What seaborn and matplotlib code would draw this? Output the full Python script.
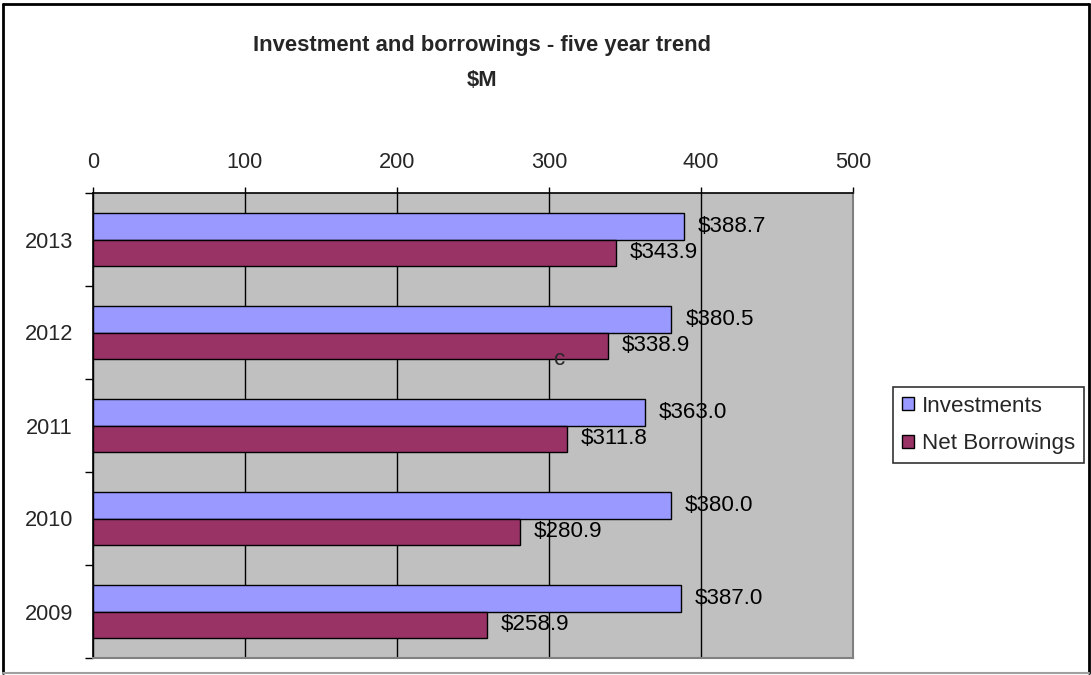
import numpy as np
import pandas as pd
import matplotlib
matplotlib.use("Agg")
import matplotlib.pyplot as plt
from matplotlib.patches import Patch
from matplotlib.lines import Line2D
import seaborn as sns

years = ["2013", "2012", "2011", "2010", "2009"]
investments = [388.7, 380.5, 363.0, 380.0, 387.0]
net_borrowings = [343.9, 338.9, 311.8, 280.9, 258.9]
series_names = ["Investments", "Net Borrowings"]
colors = ["#9999FF", "#993366"]
x_ticks = [0, 100, 200, 300, 400, 500]
title_line1 = "Investment and borrowings - five year trend"
title_line2 = "$M"

sns.set_style("white")
plt.rcParams["font.family"] = ["Liberation Sans", "DejaVu Sans"]

df = pd.DataFrame({
    "Year": years * 2,
    "Value": investments + net_borrowings,
    "Series": [series_names[0]] * len(years) + [series_names[1]] * len(years),
})

FS_TICK = 15.7
FS_LAB = 16.1

fig = plt.figure(figsize=(10.91, 6.75), dpi=100)
W, H = 1091, 675
ax = fig.add_axes([93 / W, (H - 658) / H, 760 / W, 465 / H])
ax.set_facecolor("#C0C0C0")

sns.barplot(data=df, y="Year", x="Value", hue="Series", orient="h",
            order=years, hue_order=series_names, palette=colors,
            saturation=1, width=0.571, edgecolor="black", linewidth=1.0,
            ax=ax, legend=False, zorder=3)

for cont in ax.containers:
    vals = [r.get_width() for r in cont]
    ax.bar_label(cont, labels=[f"${v:.1f}" for v in vals], padding=10,
                 fontsize=FS_LAB, color="black", zorder=5)

ax.set_xlim(0, 500)
ax.set_ylim(4.5, -0.5)
ax.set_xticks(x_ticks)
ax.set_xticklabels([str(t) for t in x_ticks])
ax.xaxis.tick_top()
ax.tick_params(axis="x", direction="out", length=4, width=1, color="black",
               labelsize=FS_TICK, pad=10.5, top=True, bottom=False)
ax.set_xlabel("")
ax.set_ylabel("")
ax.grid(axis="x", color="black", linewidth=1, zorder=1)
ax.set_axisbelow(True)

ax.set_yticks(range(len(years)))
ax.set_yticklabels(years)
ax.tick_params(axis="y", which="major", length=0, labelsize=FS_TICK, pad=14.5)
ax.set_yticks(np.arange(-0.5, len(years), 1), minor=True)
ax.tick_params(axis="y", which="minor", length=6, width=1, color="black",
               direction="out", left=True)

for side in ["left", "top"]:
    ax.spines[side].set_visible(True)
    ax.spines[side].set_color("black")
    ax.spines[side].set_linewidth(1.2)
for side in ["right", "bottom"]:
    ax.spines[side].set_visible(True)
    ax.spines[side].set_color("#808080")
    ax.spines[side].set_linewidth(1.5)

# stray character present in the source chart
ax.text(307, 1.29, "c", fontsize=FS_LAB, ha="center", va="center", zorder=6)

fig.text(482 / W, 1 - 46 / H, title_line1,
         ha="center", va="center", fontsize=15.8, fontweight="bold")
fig.text(482 / W, 1 - 80 / H, title_line2,
         ha="center", va="center", fontsize=15.8, fontweight="bold")

handles = [Patch(facecolor=c, edgecolor="black", linewidth=1) for c in colors]
leg = fig.legend(handles, series_names, loc="center left",
                 bbox_to_anchor=(893 / W, 1 - 425 / H), frameon=True,
                 fontsize=FS_LAB, handlelength=0.55, handleheight=0.55,
                 handletextpad=0.35, borderpad=0.4, labelspacing=0.75,
                 borderaxespad=0, fancybox=False)
leg.get_frame().set_edgecolor("black")
leg.get_frame().set_linewidth(1.2)

# figure border
fig.add_artist(Line2D([3 / W, 3 / W], [1 - 4 / H, 1 - 673 / H], color="black", lw=2))
fig.add_artist(Line2D([3 / W, 1089 / W], [1 - 4 / H, 1 - 4 / H], color="black", lw=2))
fig.add_artist(Line2D([1089 / W, 1089 / W], [1 - 4 / H, 1 - 673 / H], color="black", lw=2))
fig.add_artist(Line2D([3 / W, 1089 / W], [1 - 673 / H, 1 - 673 / H], color="#A0A0A0", lw=1.5))

fig.savefig("out.png", dpi=100)
